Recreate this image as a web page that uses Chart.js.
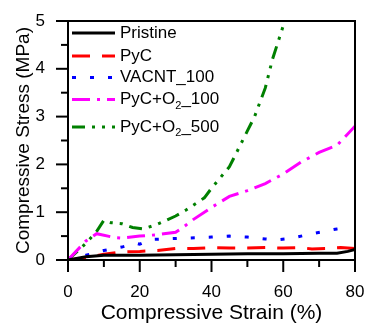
<!DOCTYPE html>
<html><head><meta charset="utf-8">
<script src="https://cdn.jsdelivr.net/npm/chart.js@4"></script>
<style>html,body{margin:0;padding:0;background:#fff}#c{display:block}</style>
</head><body>
<div style="width:365px;height:326px"><canvas id="c" width="365" height="326"></canvas></div>
<script>
const seriesNames = ["Pristine", "PyC", "VACNT_100", "PyC+O₂_100", "PyC+O₂_500"];
const pristineX = [0, 5, 10, 20, 30, 40, 50, 60, 70, 75, 78, 80];
const pristineY = [0, 0.07, 0.1, 0.1, 0.11, 0.12, 0.13, 0.13, 0.14, 0.14, 0.18, 0.22];
const pycX = [0, 5, 10, 15, 20, 25, 30, 35, 40, 45, 50, 55, 60, 65, 68, 72, 76, 80];
const pycY = [0, 0.05, 0.12, 0.17, 0.18, 0.2, 0.24, 0.24, 0.26, 0.25, 0.25, 0.26, 0.25, 0.26, 0.23, 0.24, 0.26, 0.24];
const vacntX = [0, 5, 10, 15, 19, 20, 23, 30, 40, 45, 50, 55, 58, 62, 68, 75, 77];
const vacntY = [0, 0.1, 0.2, 0.27, 0.35, 0.33, 0.43, 0.45, 0.48, 0.5, 0.48, 0.44, 0.42, 0.45, 0.55, 0.65, 0.67];
const o100X = [0, 5, 8, 13, 15, 20, 25, 30, 32, 35, 40, 45, 50, 55, 60, 65, 70, 75, 80];
const o100Y = [0, 0.4, 0.55, 0.47, 0.46, 0.5, 0.53, 0.58, 0.68, 0.85, 1.1, 1.33, 1.45, 1.6, 1.8, 2.05, 2.25, 2.4, 2.8];
const o500X = [0, 5, 8, 10, 12, 15, 18, 21, 25, 30, 33, 38, 40, 45, 48, 50, 52, 55, 57, 60];
const o500Y = [0, 0.35, 0.6, 0.83, 0.78, 0.76, 0.68, 0.65, 0.75, 0.92, 1.05, 1.3, 1.5, 1.95, 2.4, 2.7, 3.0, 3.6, 4.2, 4.9];
const xTicks = [0, 20, 40, 60, 80];
const yTicks = [0, 1, 2, 3, 4, 5];

const colors = ["#000000", "#ff0000", "#0000ff", "#ff00ff", "#008000"];
const dashes = [[], [18, 12], [4, 14], [18, 7, 3, 7], [13, 7, 3, 7, 3, 7]];
const xs = [pristineX, pycX, vacntX, o100X, o500X];
const ys = [pristineY, pycY, vacntY, o100Y, o500Y];

const datasets = seriesNames.map((n, i) => ({
  label: n,
  data: xs[i].map((x, k) => ({x: x, y: ys[i][k]})),
  borderColor: colors[i],
  backgroundColor: colors[i],
  borderWidth: 3,
  borderDash: dashes[i],
  pointRadius: 0,
  tension: 0,
  fill: false
}));

const FONT = "'Liberation Sans', Arial, sans-serif";
const legendRows = [12, 35, 56.5, 78.5, 106];

const framePlugin = {
  id: 'frame',
  afterDraw(chart) {
    const ctx = chart.ctx, a = chart.chartArea;
    const sx = chart.scales.x, sy = chart.scales.y;
    ctx.save();
    ctx.strokeStyle = '#000';
    ctx.setLineDash([]);
    ctx.lineWidth = 2;
    ctx.strokeRect(a.left, a.top, a.right - a.left, a.bottom - a.top);
    for (let v = 0; v <= 80; v += 10) {
      const p = sx.getPixelForValue(v);
      const len = (v % 20 === 0) ? 12 : 7;
      ctx.beginPath(); ctx.moveTo(p, a.bottom); ctx.lineTo(p, a.bottom + len); ctx.stroke();
    }
    for (let v = 0; v <= 5.001; v += 0.5) {
      const p = sy.getPixelForValue(v);
      const len = (Math.abs(v - Math.round(v)) < 1e-6) ? 12 : 7;
      ctx.beginPath(); ctx.moveTo(a.left, p); ctx.lineTo(a.left - len, p); ctx.stroke();
    }
    // legend
    const x0 = a.left + 4, x1 = a.left + 47, tx = a.left + 52;
    ctx.textBaseline = 'middle';
    ctx.fillStyle = '#000';
    chart.data.datasets.forEach((ds, i) => {
      const yy = a.top + legendRows[i];
      ctx.save();
      ctx.strokeStyle = ds.borderColor;
      ctx.lineWidth = 3;
      ctx.setLineDash(ds.borderDash);
      ctx.beginPath(); ctx.moveTo(x0, yy); ctx.lineTo(x1, yy); ctx.stroke();
      ctx.restore();
      const parts = ds.label.split('₂');
      let cx = tx;
      ctx.font = "17px " + FONT;
      ctx.fillText(parts[0], cx, yy);
      cx += ctx.measureText(parts[0]).width;
      if (parts.length > 1) {
        ctx.font = "11px " + FONT;
        ctx.fillText('2', cx, yy + 6);
        cx += ctx.measureText('2').width;
        ctx.font = "17px " + FONT;
        ctx.fillText(parts[1], cx, yy);
      }
    });
    ctx.restore();
  }
};

new Chart(document.getElementById('c'), {
  type: 'line',
  data: {datasets: datasets},
  options: {
    responsive: false,
    animation: false,
    layout: {padding: {top: 21, right: 10, left: 0, bottom: 0}},
    plugins: {legend: {display: false}, tooltip: {enabled: false}},
    scales: {
      x: {
        type: 'linear', min: 0, max: 80,
        afterFit(s) { s.height = 66; },
        afterBuildTicks(s) { s.ticks = xTicks.map(v => ({value: v})); },
        grid: {display: true, drawOnChartArea: false, drawTicks: true, tickLength: 22, color: 'rgba(0,0,0,0)'},
        border: {display: false},
        ticks: {color: '#000', font: {size: 17, family: FONT}, padding: 0, maxRotation: 0},
        title: {display: true, text: 'Compressive Strain (%)', color: '#000', font: {size: 21, family: FONT}, padding: {top: 0, bottom: 0}}
      },
      y: {
        type: 'linear', min: 0, max: 5,
        afterFit(s) { s.width = 68; },
        afterBuildTicks(s) { s.ticks = yTicks.map(v => ({value: v})); },
        grid: {display: true, drawOnChartArea: false, drawTicks: true, tickLength: 23, color: 'rgba(0,0,0,0)'},
        border: {display: false},
        ticks: {color: '#000', font: {size: 17, family: FONT}, padding: 0},
        title: {display: true, text: 'Compressive Stress (MPa)', color: '#000', font: {size: 19, family: FONT}, padding: {top: 12, bottom: 0}}
      }
    }
  },
  plugins: [framePlugin]
});
</script>
</body></html>
